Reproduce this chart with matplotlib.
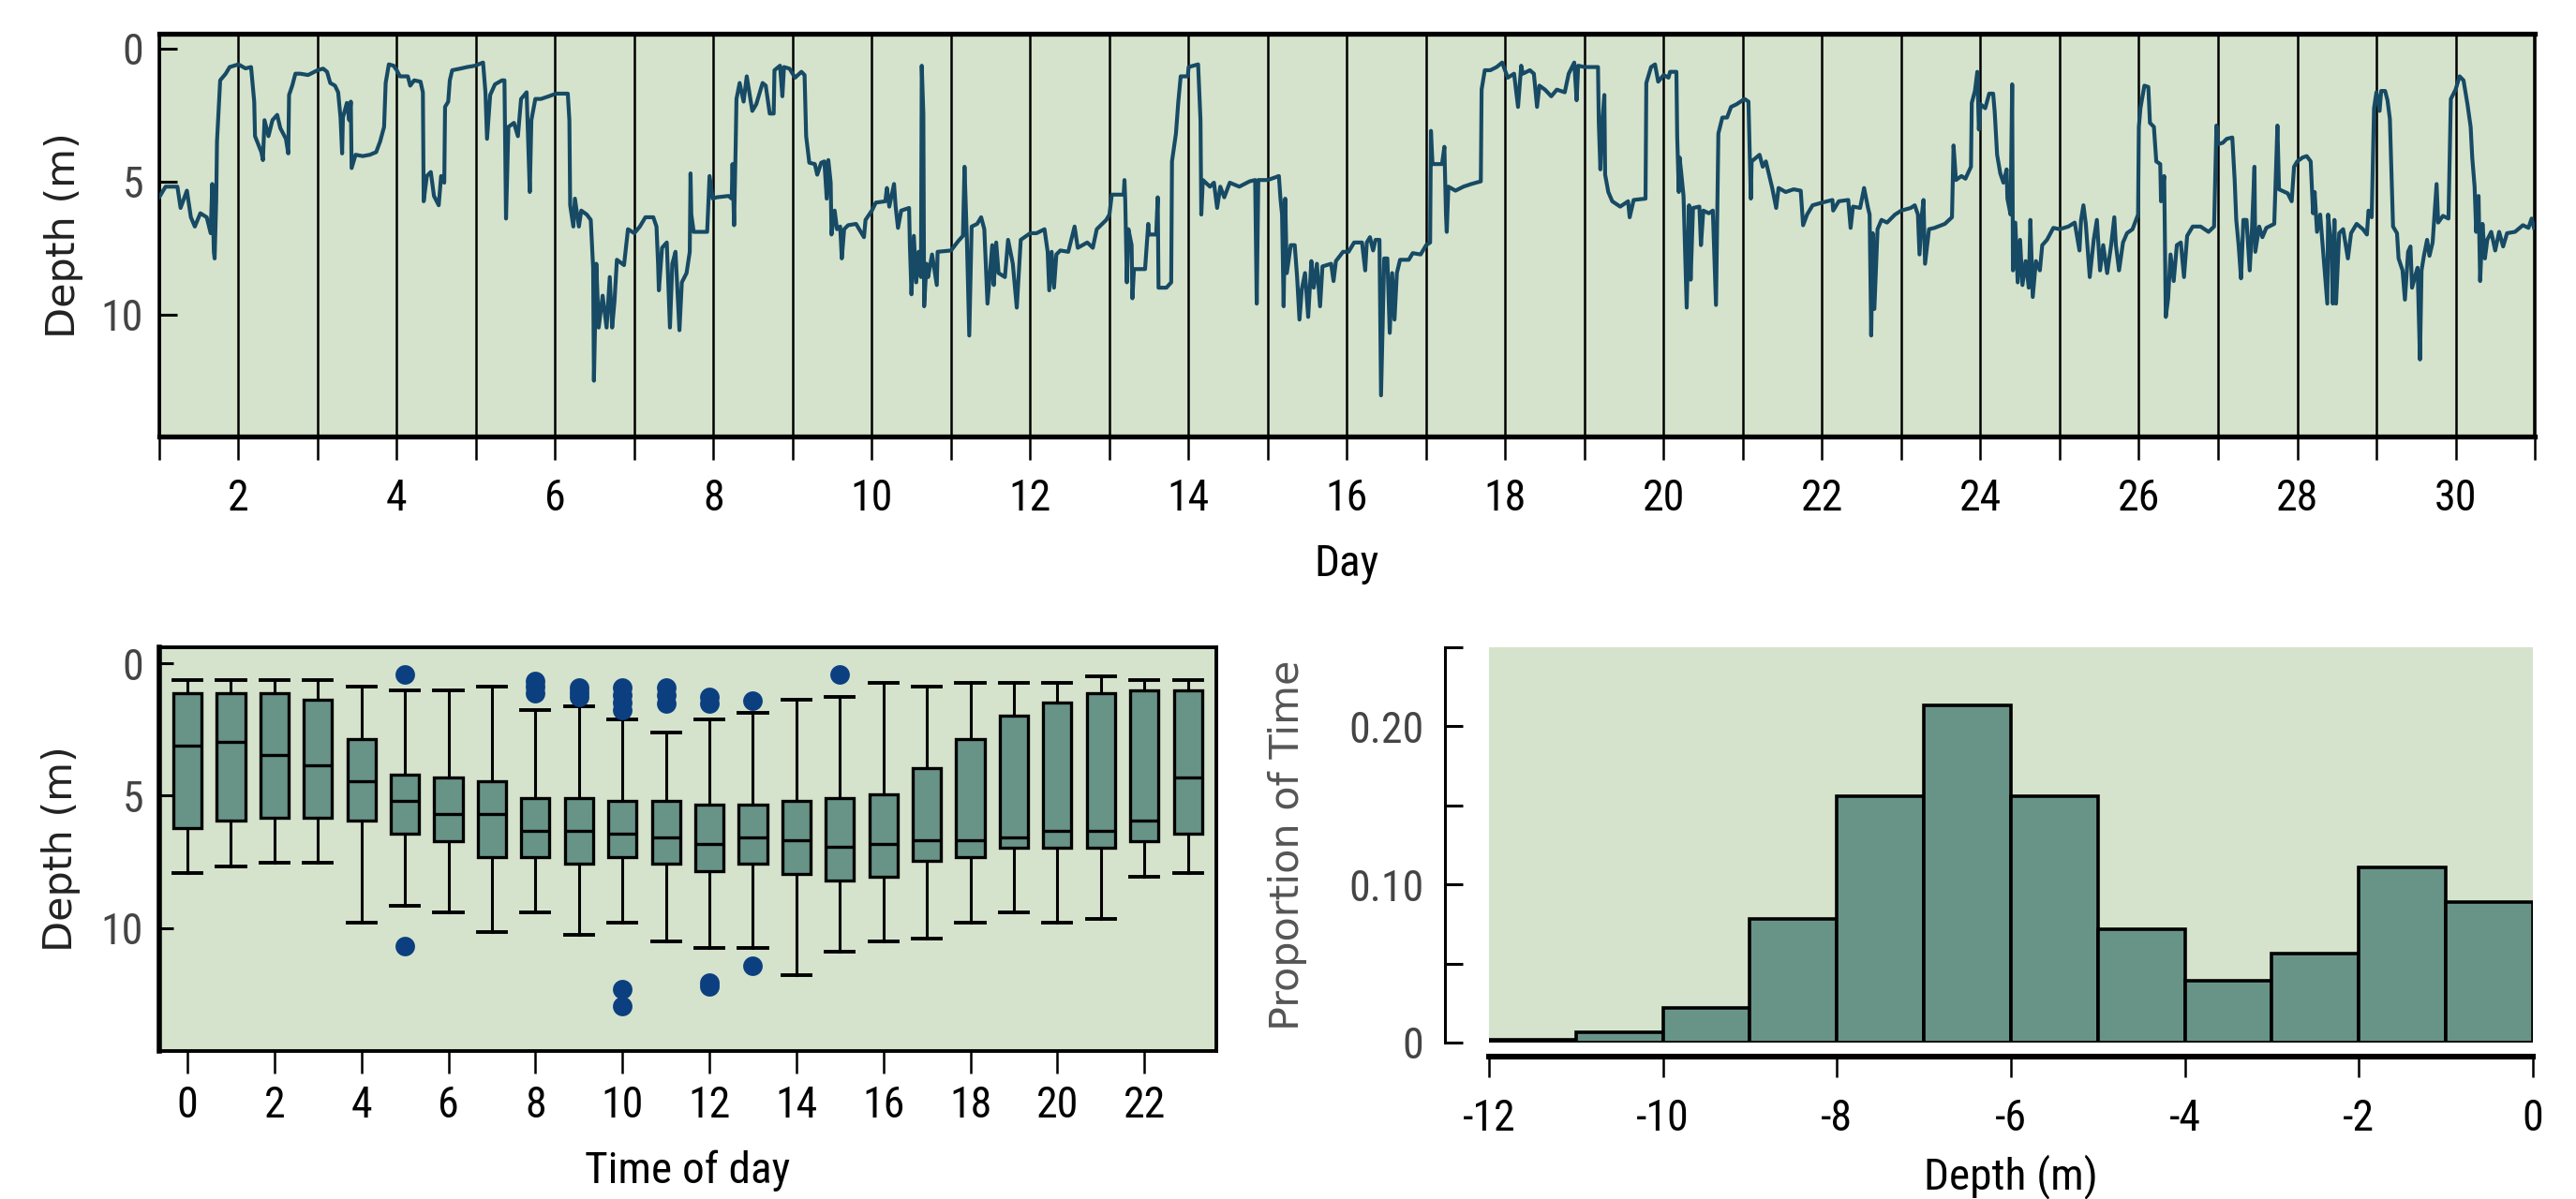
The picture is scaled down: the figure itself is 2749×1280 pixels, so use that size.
import matplotlib
matplotlib.use('Agg')
import matplotlib.pyplot as plt
from matplotlib import font_manager


# Depth trace (one line per day)
day_t = [
    1.00, 1.08, 1.23, 1.27, 1.35, 1.40, 1.45, 1.52, 1.60, 1.65, 1.67, 1.69, 1.70, 1.72, 1.73, 1.77, 1.84, 1.89, 2.00,
    2.09, 2.16, 2.20, 2.21, 2.29, 2.31, 2.33, 2.38, 2.43, 2.49, 2.53, 2.60, 2.63, 2.64, 2.68, 2.72, 2.78, 2.88, 3.00,
    3.07, 3.12, 3.16, 3.22, 3.26, 3.29, 3.31, 3.32, 3.37, 3.40, 3.42, 3.43, 3.48, 3.57, 3.66, 3.74, 3.79, 3.84, 3.86, 3.90, 3.96, 4.00,
    4.04, 4.14, 4.17, 4.22, 4.30, 4.33, 4.34, 4.38, 4.43, 4.47, 4.53, 4.56, 4.60, 4.61, 4.65, 4.67, 4.70, 4.80, 4.89, 4.99,
    5.09, 5.12, 5.14, 5.18, 5.24, 5.33, 5.36, 5.38, 5.41, 5.48, 5.53, 5.57, 5.64, 5.68, 5.70, 5.75, 5.82, 5.92, 6.01, 6.16,
    6.18, 6.19, 6.23, 6.25, 6.30, 6.33, 6.40, 6.45, 6.48, 6.49, 6.52, 6.55, 6.60, 6.65, 6.69, 6.72, 6.75, 6.78, 6.87, 6.92, 7.00,
    7.07, 7.14, 7.24, 7.28, 7.30, 7.31, 7.35, 7.41, 7.45, 7.48, 7.52, 7.57, 7.60, 7.66, 7.70, 7.71, 7.72, 7.75, 7.92, 7.95, 7.99,
    8.04, 8.19, 8.23, 8.24, 8.26, 8.28, 8.29, 8.33, 8.38, 8.42, 8.49, 8.54, 8.62, 8.66, 8.71, 8.76, 8.77, 8.84, 8.87, 8.89, 8.96,
    9.03, 9.11, 9.15, 9.17, 9.21, 9.28, 9.31, 9.36, 9.40, 9.43, 9.45, 9.48, 9.49, 9.53, 9.56, 9.60, 9.62, 9.65, 9.70, 9.80, 9.90, 9.92, 10.00,
    10.05, 10.17, 10.19, 10.22, 10.28, 10.30, 10.33, 10.37, 10.47, 10.48, 10.50, 10.53, 10.56, 10.59, 10.62, 10.63, 10.65, 10.66, 10.69, 10.71, 10.76, 10.82, 10.83, 11.00,
    11.09, 11.15, 11.17, 11.20, 11.23, 11.26, 11.33, 11.38, 11.42, 11.46, 11.52, 11.54, 11.57, 11.60, 11.68, 11.72, 11.78, 11.83, 11.88, 12.00,
    12.08, 12.18, 12.22, 12.24, 12.27, 12.30, 12.33, 12.38, 12.48, 12.56, 12.60, 12.72, 12.79, 12.84, 12.96, 13.00,
    13.03, 13.18, 13.19, 13.20, 13.22, 13.24, 13.28, 13.29, 13.31, 13.45, 13.49, 13.50, 13.59, 13.61, 13.62, 13.72, 13.78, 13.79, 13.84, 13.87, 13.90, 13.99, 14.00,
    14.12, 14.15, 14.16, 14.18, 14.27, 14.32, 14.36, 14.40, 14.45, 14.52, 14.64, 14.77, 14.84, 14.86, 14.88, 15.00,
    15.14, 15.16, 15.18, 15.20, 15.22, 15.24, 15.29, 15.34, 15.37, 15.40, 15.43, 15.47, 15.51, 15.55, 15.58, 15.62, 15.66, 15.69, 15.80, 15.83, 15.86, 15.95,
    16.02, 16.09, 16.19, 16.23, 16.25, 16.29, 16.33, 16.36, 16.41, 16.43, 16.47, 16.51, 16.54, 16.57, 16.60, 16.63, 16.67, 16.78, 16.83, 16.93, 17.00,
    17.05, 17.06, 17.08, 17.20, 17.23, 17.25, 17.26, 17.28, 17.37, 17.47, 17.57, 17.69, 17.70, 17.74, 17.81, 17.89, 17.96,
    18.03, 18.11, 18.16, 18.20, 18.22, 18.31, 18.36, 18.40, 18.43, 18.50, 18.58, 18.65, 18.75, 18.80, 18.87, 18.90, 18.92, 19.00,
    19.17, 19.18, 19.20, 19.22, 19.25, 19.26, 19.30, 19.35, 19.45, 19.55, 19.57, 19.62, 19.77, 19.78, 19.84, 19.89, 19.93, 20.00,
    20.06, 20.08, 20.16, 20.17, 20.19, 20.20, 20.22, 20.25, 20.29, 20.32, 20.34, 20.37, 20.45, 20.47, 20.50, 20.57, 20.62, 20.66, 20.69, 20.74, 20.80, 20.85, 20.92, 21.02,
    21.07, 21.10, 21.11, 21.17, 21.21, 21.25, 21.29, 21.37, 21.42, 21.45, 21.54, 21.64, 21.73, 21.76, 21.81, 21.88, 22.00,
    22.13, 22.14, 22.21, 22.33, 22.36, 22.39, 22.48, 22.53, 22.58, 22.60, 22.62, 22.64, 22.66, 22.70, 22.75, 22.82, 22.92, 23.00,
    23.12, 23.17, 23.21, 23.23, 23.26, 23.28, 23.30, 23.35, 23.42, 23.55, 23.64, 23.66, 23.69, 23.76, 23.81, 23.88, 23.89, 23.93, 23.96, 23.98, 24.00,
    24.06, 24.11, 24.16, 24.18, 24.21, 24.23, 24.25, 24.29, 24.33, 24.34, 24.38, 24.40, 24.41, 24.44, 24.47, 24.50, 24.53, 24.57, 24.61, 24.63, 24.66, 24.70, 24.75, 24.78, 24.84, 24.92, 25.00,
    25.11, 25.19, 25.25, 25.27, 25.30, 25.33, 25.38, 25.43, 25.47, 25.51, 25.55, 25.60, 25.65, 25.69, 25.71, 25.75, 25.80, 25.85, 25.92, 25.99, 26.00, 26.02,
    26.07, 26.12, 26.14, 26.19, 26.22, 26.27, 26.28, 26.32, 26.34, 26.37, 26.40, 26.44, 26.48, 26.53, 26.57, 26.61, 26.68, 26.78, 26.88, 26.95, 26.98, 27.00,
    27.06, 27.11, 27.18, 27.21, 27.23, 27.26, 27.29, 27.32, 27.36, 27.40, 27.43, 27.46, 27.47, 27.52, 27.56, 27.61, 27.71, 27.75, 27.77, 27.88, 27.93, 27.96, 28.00,
    28.07, 28.12, 28.17, 28.20, 28.22, 28.25, 28.29, 28.38, 28.39, 28.43, 28.45, 28.47, 28.49, 28.53, 28.58, 28.64, 28.68, 28.75, 28.83, 28.88, 28.90, 28.94, 28.97, 29.00,
    29.04, 29.06, 29.11, 29.14, 29.17, 29.21, 29.26, 29.28, 29.33, 29.36, 29.40, 29.43, 29.45, 29.50, 29.52, 29.55, 29.57, 29.60, 29.64, 29.67, 29.71, 29.76, 29.78, 29.84, 29.91, 29.94, 30.00,
    30.05, 30.10, 30.15, 30.19, 30.21, 30.24, 30.26, 30.29, 30.31, 30.34, 30.37, 30.40, 30.45, 30.50, 30.55, 30.60, 30.65, 30.75, 30.85, 30.92, 30.96, 30.99,
]
depth_m = [
    5.6, 5.2, 5.2, 6.0, 5.35, 6.35, 6.7, 6.2, 6.35, 6.95, 5.1, 7.65, 7.9, 5.75, 3.5, 1.2, 0.95, 0.7, 0.6,
    0.75, 0.7, 2.0, 3.3, 3.9, 4.2, 2.7, 3.3, 2.7, 2.5, 3.0, 3.4, 3.95, 1.75, 1.4, 0.95, 0.95, 1.0, 0.82,
    0.76, 0.88, 1.3, 1.4, 1.65, 2.6, 3.95, 2.6, 2.05, 2.7, 2.0, 4.5, 4.0, 4.05, 4.0, 3.9, 3.5, 2.95, 1.3, 0.6, 0.65, 0.82,
    1.05, 1.05, 1.4, 1.2, 1.25, 1.65, 5.75, 4.8, 4.65, 5.55, 5.9, 4.8, 5.05, 2.2, 2.0, 1.2, 0.82, 0.76, 0.7, 0.65,
    0.53, 1.65, 3.4, 1.75, 1.35, 1.2, 1.2, 6.4, 2.95, 2.8, 3.3, 1.9, 1.65, 5.4, 2.7, 1.9, 1.9, 1.8, 1.7, 1.7,
    2.7, 5.9, 6.7, 5.65, 6.7, 6.1, 6.25, 6.45, 8.25, 12.5, 8.1, 10.5, 9.3, 10.5, 8.6, 10.5, 9.5, 7.95, 8.15, 6.8, 6.95,
    6.7, 6.35, 6.35, 6.7, 8.1, 9.1, 7.5, 7.3, 10.5, 8.1, 7.65, 10.6, 8.8, 8.45, 7.65, 4.7, 6.25, 6.9, 6.9, 4.8, 5.65,
    5.6, 5.55, 5.65, 4.35, 6.65, 3.65, 1.9, 1.3, 2.0, 1.05, 2.35, 2.1, 1.3, 1.4, 2.45, 2.45, 0.82, 0.65, 1.8, 0.7, 0.76,
    1.1, 0.88, 1.0, 3.3, 4.3, 4.35, 4.75, 4.3, 4.25, 5.65, 4.2, 5.05, 7.0, 6.1, 6.8, 6.7, 7.9, 6.8, 6.65, 6.6, 7.1, 6.45, 6.1,
    5.8, 5.75, 5.25, 5.95, 5.1, 5.95, 6.75, 6.1, 6.0, 7.4, 9.25, 7.05, 8.8, 7.65, 8.6, 0.65, 2.45, 9.7, 8.1, 8.6, 7.75, 8.9, 7.65, 7.6,
    7.25, 7.05, 4.45, 7.2, 10.8, 6.7, 6.6, 6.35, 6.8, 9.6, 7.4, 8.9, 7.3, 8.45, 8.6, 7.2, 8.1, 9.75, 7.2, 6.95,
    6.95, 6.8, 7.65, 9.1, 7.65, 9.0, 7.75, 7.6, 7.65, 6.7, 7.5, 7.3, 7.5, 6.8, 6.45, 6.25,
    5.5, 5.5, 4.95, 5.75, 8.8, 6.8, 7.4, 9.4, 8.3, 8.3, 6.6, 7.0, 7.0, 5.6, 9.0, 9.0, 8.8, 4.25, 3.2, 2.0, 1.05, 1.05, 0.7,
    0.6, 2.7, 6.25, 4.95, 5.2, 5.05, 6.0, 5.2, 5.6, 5.05, 5.2, 5.0, 4.95, 9.6, 4.95, 4.95,
    4.8, 5.65, 6.25, 9.7, 5.65, 8.45, 7.4, 7.4, 8.6, 10.2, 9.05, 8.45, 10.1, 8.0, 9.0, 8.1, 9.7, 8.2, 8.1, 8.75, 8.0, 7.65,
    7.65, 7.3, 7.3, 8.35, 7.3, 7.1, 7.6, 7.2, 7.2, 13.05, 7.9, 7.9, 10.7, 8.45, 10.2, 8.45, 7.95, 7.95, 7.7, 7.75, 7.4,
    7.3, 3.1, 4.35, 4.35, 3.7, 6.25, 6.9, 5.2, 5.35, 5.2, 5.1, 5.0, 1.55, 0.82, 0.82, 0.7, 0.53,
    1.1, 0.95, 2.2, 0.65, 0.95, 0.82, 0.95, 2.2, 1.4, 1.55, 1.8, 1.55, 1.65, 0.95, 0.53, 1.95, 0.65, 0.7,
    0.7, 2.8, 4.55, 2.9, 1.75, 4.75, 5.4, 5.75, 5.95, 5.75, 6.35, 5.7, 5.65, 1.3, 0.7, 0.6, 1.25, 1.0,
    1.1, 0.88, 0.88, 3.3, 5.4, 4.1, 4.65, 5.55, 9.75, 5.9, 8.7, 6.0, 5.95, 7.4, 6.1, 6.2, 6.1, 9.65, 3.2, 2.6, 2.6, 2.2, 2.1, 1.9,
    2.0, 5.65, 4.25, 4.1, 4.0, 4.45, 4.25, 5.25, 6.0, 5.25, 5.4, 5.3, 5.35, 6.65, 6.25, 5.9, 5.8,
    5.7, 6.1, 5.75, 5.7, 6.75, 5.95, 6.0, 5.25, 6.0, 6.25, 10.8, 6.95, 9.8, 6.8, 6.45, 6.55, 6.25, 6.1,
    6.0, 5.9, 6.25, 7.75, 6.25, 5.7, 8.1, 6.8, 6.75, 6.6, 6.35, 3.65, 4.95, 4.8, 4.9, 4.45, 2.05, 1.6, 0.88, 3.05, 2.1,
    2.25, 1.7, 1.7, 2.4, 4.0, 4.35, 4.7, 5.05, 4.55, 5.65, 6.25, 1.35, 8.35, 6.55, 8.8, 7.2, 8.9, 8.0, 9.0, 6.45, 9.35, 8.0, 8.35, 7.4, 7.2, 6.75, 6.8,
    6.7, 6.55, 7.6, 6.45, 5.9, 6.6, 8.6, 7.2, 6.45, 8.35, 7.4, 8.45, 7.4, 6.35, 7.4, 8.35, 7.3, 6.95, 6.8, 6.25, 2.95, 2.25,
    1.4, 1.45, 2.8, 2.95, 4.25, 4.35, 5.75, 4.8, 10.1, 9.4, 7.75, 8.75, 7.4, 7.3, 8.6, 7.05, 6.7, 6.7, 6.9, 6.7, 2.9, 3.6,
    3.55, 3.4, 3.35, 4.95, 6.45, 7.4, 8.65, 6.45, 6.45, 8.35, 6.7, 4.45, 7.65, 6.7, 7.1, 6.75, 6.6, 2.9, 5.3, 5.45, 5.75, 4.45, 4.25,
    4.1, 4.05, 4.25, 6.2, 5.4, 6.9, 6.25, 9.6, 6.25, 7.4, 9.6, 6.45, 9.6, 6.95, 6.8, 7.9, 6.95, 6.6, 6.8, 7.0, 6.1, 6.35, 2.25, 1.65,
    2.35, 1.6, 1.6, 1.95, 2.65, 6.7, 6.95, 7.9, 8.35, 9.45, 7.65, 7.45, 9.0, 8.45, 8.25, 11.7, 8.35, 7.8, 7.2, 7.8, 7.3, 5.1, 6.55, 6.3, 6.4, 1.9, 1.55,
    1.05, 1.2, 2.1, 2.95, 4.1, 5.2, 6.9, 5.55, 8.75, 6.6, 7.9, 7.2, 6.9, 7.6, 6.9, 7.45, 6.95, 6.9, 6.65, 6.75, 6.4, 6.75,
]

# Hourly depth distribution (box plot), depth in m
hours = list(range(24))
whisk_top = [0.64, 0.64, 0.64, 0.64, 0.90, 1.01, 1.01, 0.90, 1.77, 1.64, 2.13, 2.63,
             2.13, 1.88, 1.39, 1.27, 0.75, 0.90, 0.75, 0.75, 0.75, 0.51, 0.64, 0.64]
box_q1 = [1.13, 1.13, 1.13, 1.37, 2.87, 4.21, 4.33, 4.46, 5.08, 5.08, 5.20, 5.20,
          5.34, 5.34, 5.20, 5.08, 4.95, 3.97, 2.87, 1.98, 1.48, 1.13, 1.01, 1.01]
box_med = [3.10, 2.97, 3.47, 3.85, 4.47, 5.20, 5.70, 5.70, 6.32, 6.32, 6.45, 6.57,
           6.83, 6.57, 6.69, 6.95, 6.83, 6.69, 6.69, 6.57, 6.32, 6.32, 5.96, 4.33]
box_q3 = [6.22, 5.96, 5.85, 5.85, 5.96, 6.45, 6.71, 7.34, 7.34, 7.58, 7.34, 7.58,
          7.84, 7.58, 7.95, 8.21, 8.08, 7.45, 7.34, 6.98, 6.98, 6.98, 6.71, 6.45]
whisk_bot = [7.92, 7.67, 7.55, 7.55, 9.80, 9.15, 9.42, 10.16, 9.42, 10.27, 9.80, 10.52,
             10.77, 10.77, 11.78, 10.88, 10.52, 10.39, 9.80, 9.42, 9.80, 9.65, 8.08, 7.92]
outliers = [[], [], [], [], [], [0.42, 10.69], [], [], [0.68, 0.9, 1.14], [0.93, 1.1, 1.26],
            [0.93, 1.2, 1.5, 1.77, 12.3, 12.94], [0.93, 1.2, 1.52], [1.29, 1.52, 12.05, 12.2],
            [1.4, 11.42], [], [0.42], [], [], [], [], [], [], [], []]

# Histogram of depth
bin_left = list(range(-12, 0))
prop_time = [0.002, 0.0065, 0.0216, 0.0783, 0.156, 0.213, 0.156, 0.0719,
             0.039, 0.0563, 0.111, 0.0889]

# fonts: narrow face for numbers, wide one for the rotated labels
names = {f.name for f in font_manager.fontManager.ttflist}
narrow = next((n for n in ['Liberation Sans Narrow', 'Roboto Condensed',
                           'Open Sans Condensed', 'DejaVu Sans Condensed']
               if n in names), 'DejaVu Sans')
wide = 'DejaVu Sans'
plt.rcParams['font.family'] = [narrow, 'DejaVu Sans']

bg = '#d5e3cc'
trace_col = '#174a64'
box_col = '#689487'
dot_col = '#0b3f80'
tick_fs = 16.5

fig = plt.figure(figsize=(13.745, 6.4), dpi=200)

# --- top: depth trace
ax1 = fig.add_axes([0.0618, 0.6359, 0.9222, 0.3359])
ax1.set_facecolor(bg)
ax1.plot(day_t, depth_m, color=trace_col, lw=1.5, zorder=3)
ax1.set_xlim(1, 31)
ax1.set_ylim(14.6, -0.55)
ax1.set_xticks(range(1, 32))
ax1.set_xticklabels([str(d) if d % 2 == 0 else '' for d in range(1, 32)])
ax1.set_yticks([0, 5, 10])
ax1.grid(axis='x', color='black', lw=0.9)
ax1.tick_params(axis='x', direction='out', length=9, width=0.9, pad=7,
                labelsize=tick_fs, colors='black')
ax1.tick_params(axis='y', direction='in', length=7, width=1.1, pad=6,
                labelsize=tick_fs, labelcolor='#444444')
for side in ['top', 'bottom']:
    ax1.spines[side].set_linewidth(1.9)
for side in ['left', 'right']:
    ax1.spines[side].set_linewidth(1.3)
ax1.set_ylabel('Depth (m)', family=wide, fontsize=15.5, color='#222222')
ax1.yaxis.set_label_coords(-0.032, 0.5)
ax1.set_xlabel('Day', fontsize=17)
ax1.xaxis.set_label_coords(0.5, -0.265)

# --- bottom left: box plot by hour
ax2 = fig.add_axes([0.0618, 0.1234, 0.4103, 0.3367])
ax2.set_facecolor(bg)
stats = [dict(whislo=lo, q1=a, med=m, q3=b, whishi=hi, fliers=f)
         for lo, a, m, b, hi, f in zip(whisk_top, box_q1, box_med, box_q3,
                                       whisk_bot, outliers)]
ax2.bxp(stats, positions=hours, widths=0.65, capwidths=0.65, patch_artist=True,
        manage_ticks=False,
        boxprops=dict(facecolor=box_col, edgecolor='black', lw=1.2),
        medianprops=dict(color='black', lw=1.2),
        whiskerprops=dict(color='black', lw=1.1),
        capprops=dict(color='black', lw=1.4),
        flierprops=dict(marker='o', markerfacecolor=dot_col,
                        markeredgecolor='none', markersize=7.5))
ax2.set_xlim(-0.65, 23.65)
ax2.set_ylim(14.65, -0.6)
ax2.set_xticks(range(0, 24, 2))
ax2.set_xticklabels([str(h) for h in range(0, 24, 2)])
ax2.set_yticks([0, 5, 10])
ax2.tick_params(axis='x', direction='out', length=8.6, width=0.9, pad=4.3,
                labelsize=tick_fs)
ax2.tick_params(axis='y', direction='in', length=5.5, width=1.1, pad=6,
                labelsize=tick_fs, labelcolor='#444444')
for side in ['top', 'right', 'bottom']:
    ax2.spines[side].set_linewidth(1.4)
ax2.spines['left'].set_linewidth(2.0)
ax2.set_ylabel('Depth (m)', family=wide, fontsize=15.5, color='#222222')
ax2.yaxis.set_label_coords(-0.0745, 0.5)
ax2.set_xlabel('Time of day', fontsize=17)
ax2.xaxis.set_label_coords(0.5, -0.246)

# --- bottom right: proportion of time at depth
ax3 = fig.add_axes([0.5780, 0.1305, 0.4052, 0.3297])
ax3.set_facecolor(bg)
ax3.bar(bin_left, prop_time, width=1, align='edge', color=box_col,
        edgecolor='black', lw=1.3)
ax3.set_xlim(-12, 0)
ax3.set_ylim(0, 0.25)
ax3.spines[['top', 'right']].set_visible(False)
ax3.spines['left'].set_position(('outward', 17))
ax3.spines['bottom'].set_position(('outward', 5.4))
ax3.spines['bottom'].set_linewidth(2.2)
ax3.spines['left'].set_linewidth(1.1)
ax3.set_yticks([0, 0.05, 0.10, 0.15, 0.20, 0.25])
ax3.set_yticklabels(['0', '', '0.10', '', '0.20', ''])
ax3.set_xticks(range(-12, 1, 2))
ax3.set_xticklabels(['-12', '-10', '-8', '-6', '-4', '-2', '0'])
ax3.tick_params(axis='x', direction='out', length=8, width=0.9, pad=8,
                labelsize=tick_fs)
ax3.tick_params(axis='y', direction='in', length=7, width=1.1, pad=8,
                labelsize=tick_fs, labelcolor='#444444')
ax3.set_ylabel('Proportion of Time', family=wide, fontsize=15.5, color='#555555')
ax3.yaxis.set_label_coords(-0.174, 0.5)
ax3.set_xlabel('Depth (m)', fontsize=17)
ax3.xaxis.set_label_coords(0.5, -0.282)

fig.savefig('out.png', dpi=200, facecolor='white')
